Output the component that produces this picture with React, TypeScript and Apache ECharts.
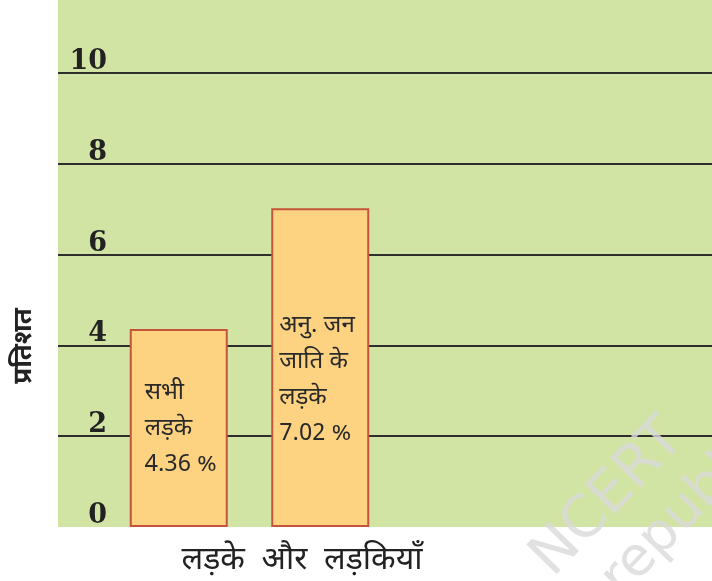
import React, { useEffect, useRef } from "react";
import * as echarts from "echarts";

const categories = ["सभी लड़के", "अनु. जन जाति के लड़के", "", ""];
const values = [4.36, 7.02];
const barTexts = ["सभी\nलड़के", "अनु. जन\nजाति के\nलड़के"];
const yTicks = [0, 2, 4, 6, 8, 10];
const yAxisTitle = "प्रतिशत";
const xAxisTitle = "लड़के  और  लड़कियाँ";

const DEV = "'Noto Sans Devanagari', 'Noto Sans', 'Lohit Devanagari', sans-serif";

export default function App() {
  const ref = useRef<HTMLDivElement>(null);
  useEffect(() => {
    if (!ref.current) return;
    const chart = echarts.init(ref.current, undefined, { renderer: "svg" });
    const offsets = [
      [5, 1],
      [-2, 12],
    ];
    const rot = (46 * Math.PI) / 180;
    chart.setOption({
      animation: false,
      grid: [
        { left: 58, right: 0, top: 73, bottom: 54 },
        { left: 108, right: 38, top: 73, bottom: 54 },
      ],
      xAxis: [
        { type: "value", gridIndex: 0, show: false, min: 0, max: 1 },
        {
          type: "category",
          gridIndex: 1,
          data: categories,
          show: false,
        },
      ],
      yAxis: [
        {
          type: "value",
          gridIndex: 0,
          min: yTicks[0],
          max: yTicks[yTicks.length - 1],
          interval: 2,
          axisLine: { show: false },
          axisTick: { show: false },
          splitLine: {
            show: true,
            showMinLine: false,
            lineStyle: { color: "#2e2e2e", width: 2 },
          },
          axisLabel: {
            inside: true,
            align: "right",
            verticalAlign: "bottom",
            margin: 49,
            padding: [0, 0, 0, 0],
            fontFamily: "'DejaVu Serif', serif",
            fontWeight: "bold",
            fontSize: 27,
            color: "#222",
          },
        },
        {
          type: "value",
          gridIndex: 1,
          min: 0,
          max: 10,
          show: false,
        },
      ],
      graphic: [
        {
          type: "rect",
          z: -10,
          shape: { x: 58, y: 0, width: 654, height: 527 },
          style: { fill: "#d1e4a4" },
          silent: true,
        },
        {
          type: "text",
          x: 25,
          y: 346,
          rotation: Math.PI / 2,
          style: {
            text: yAxisTitle,
            font: `bold 26px ${DEV}`,
            fill: "#222",
            align: "center",
            verticalAlign: "middle",
          },
        },
        {
          type: "text",
          x: 302,
          y: 561,
          style: {
            text: xAxisTitle,
            font: `32px ${DEV}`,
            fill: "#222",
            align: "center",
            verticalAlign: "middle",
          },
        },
        {
          type: "text",
          x: 605,
          y: 495,
          rotation: rot,
          z: 100,
          style: {
            text: "NCERT",
            font: "58px 'DejaVu Sans', sans-serif",
            fill: "rgba(218,218,218,0.8)",
            align: "center",
            verticalAlign: "middle",
          },
        },
        {
          type: "text",
          x: 608,
          y: 585,
          rotation: rot,
          z: 100,
          style: {
            text: "republished",
            font: "54px 'DejaVu Sans', sans-serif",
            fill: "rgba(218,218,218,0.8)",
            align: "left",
            verticalAlign: "middle",
          },
        },
      ],
      series: [
        {
          type: "bar",
          xAxisIndex: 1,
          yAxisIndex: 1,
          barWidth: 98,
          data: values.map((v, i) => ({
            value: v,
            label: { offset: offsets[i] },
          })),
          itemStyle: {
            color: "#fdd381",
            borderColor: "#c4543a",
            borderWidth: 2,
          },
          label: {
            show: true,
            position: "insideLeft",
            distance: 10,
            align: "left",
            fontFamily: DEV,
            fontSize: 24,
            lineHeight: 36,
            color: "#2a2a2a",
            formatter: (p: any) => `${barTexts[p.dataIndex]}\n${values[p.dataIndex].toFixed(2)} %`,
          },
        },
      ],
    });
    return () => chart.dispose();
  }, []);
  return (
    <div
      ref={ref}
      style={{ position: "fixed", left: 0, top: 0, width: 712, height: 581 }}
    />
  );
}
